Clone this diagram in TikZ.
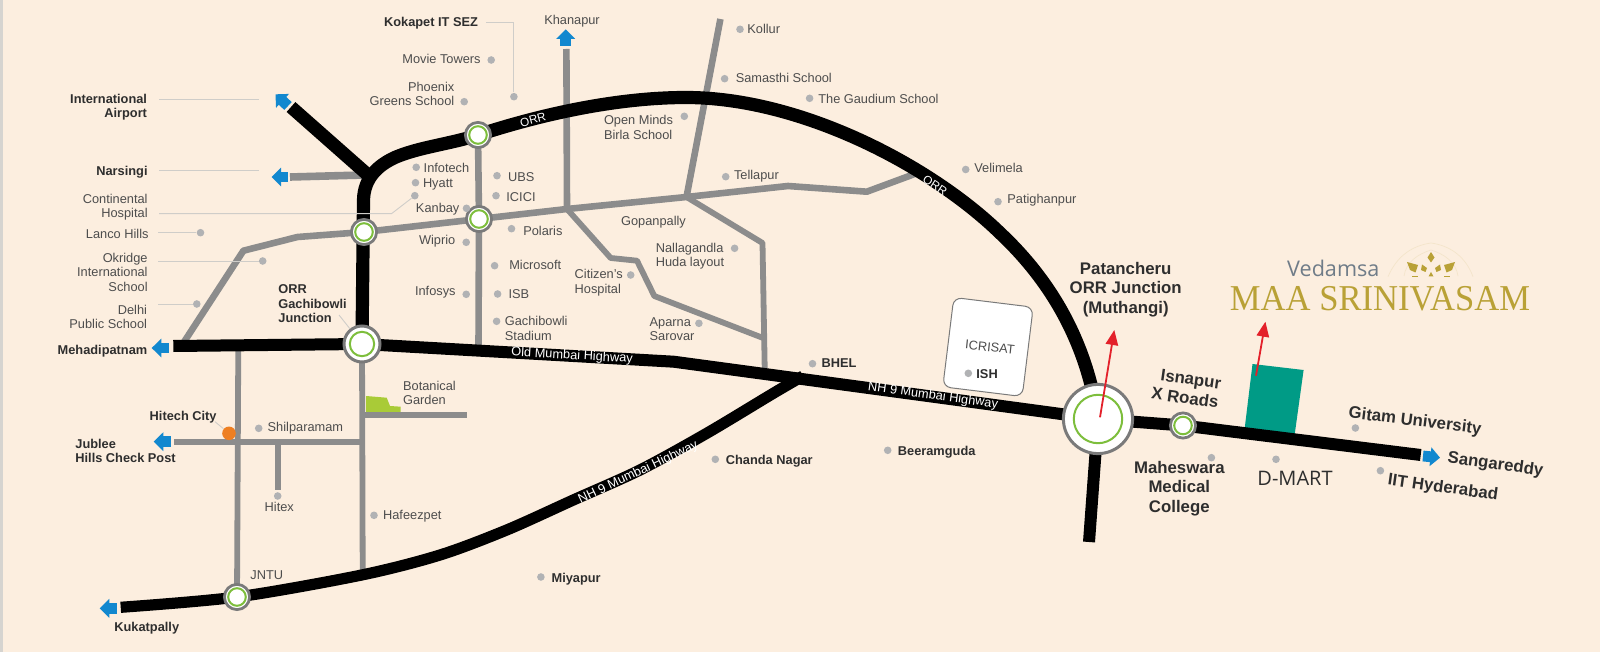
\documentclass[tikz,border=0pt]{standalone}
\usepackage{fontspec}
\setmainfont{Liberation Sans}
\newfontfamily\logofont{Open Sans}
\newfontfamily\brandfont{Liberation Serif}
\usetikzlibrary{positioning,calc,arrows.meta}
\definecolor{mapbg}{HTML}{FCEEDF}
\definecolor{sidestrip}{HTML}{D6D4D0}
\definecolor{roadgray}{HTML}{8C8C8C}
\definecolor{placegray}{HTML}{B1B2B4}
\definecolor{leadergray}{HTML}{CFCDC9}
\definecolor{arrowblue}{HTML}{1288CF}
\definecolor{ringgreen}{HTML}{7DBE3C}
\definecolor{ringgray}{HTML}{7A7A7A}
\definecolor{parkgreen}{HTML}{A9CB37}
\definecolor{plotteal}{HTML}{009B86}
\definecolor{pinred}{HTML}{E3202A}
\definecolor{dotorange}{HTML}{EE7F22}
\definecolor{brandgold}{HTML}{B9A136}
\definecolor{brandgray}{HTML}{6F7C88}
\definecolor{textgray}{HTML}{4D4D4D}
\definecolor{textdark}{HTML}{2E2E2E}
\tikzset{font=\fontsize{6.4}{7.25}\selectfont}
\tikzset{
	orr/.style={draw=black, line width=6.6pt},
	highway/.style={draw=black, line width=6pt, line join=round},
	mainroad/.style={draw=roadgray, line width=3.3pt, line join=round},
	sideroad/.style={draw=roadgray, line width=2.9pt, line join=round},
	leader/.style={draw=leadergray, line width=0.45pt},
	bluearrow/.style={draw=arrowblue, line width=5.4pt, -{Triangle[length=4.8pt,width=9.2pt,color=arrowblue]}},
	redarrow/.style={draw=pinred, line width=0.9pt, -{Triangle[length=7.5pt,width=6.2pt,color=pinred]}},
	placedot/.style={circle, fill=placegray, minimum size=3.8pt},
	jnsmall/.style={circle, fill=white, draw=ringgray, line width=1.4pt, minimum size=12.6pt},
	jngreensmall/.style={circle, draw=ringgreen, line width=1pt, minimum size=8.8pt},
	jnmid/.style={circle, fill=white, draw=ringgray, line width=1.5pt, minimum size=18pt},
	jngreenmid/.style={circle, draw=ringgreen, line width=1pt, minimum size=12.2pt},
	jnbig/.style={circle, fill=white, draw=ringgray, line width=1.5pt, minimum size=34.6pt},
	jngreenbig/.style={circle, draw=ringgreen, line width=1pt, minimum size=24.2pt},
	plain/.style={text=textgray},
	strong/.style={text=textdark, font=\fontsize{6.4}{7.25}\selectfont\bfseries},
	big/.style={text=textdark, font=\fontsize{8.4}{9.7}\selectfont\bfseries},
	onroad/.style={text=white},
	petal/.style={fill=brandgold},
	faintline/.style={draw=brandgold!12!mapbg, line width=0.35pt}
}

\begin{document}
\begin{tikzpicture}[x=0.5pt, y=-0.5pt]
	\tikzstyle{every node}=[align=center, inner sep=0pt]
	\useasboundingbox (0,0) rectangle (1600,652);
	\fill[mapbg] (0,0) rectangle (1600,652);
	\fill[sidestrip] (0,0) rectangle (3,652);

	\coordinate (jnNorth) at (478,135);
	\coordinate (jnKanbay) at (479,219);
	\coordinate (jnWest) at (364,232);
	\coordinate (jnGach) at (362,344);
	\coordinate (jnJntu) at (237,597);
	\coordinate (jnMuthangi) at (1098,419);
	\coordinate (jnIsnapur) at (1183,425.5);
	\coordinate (forkAirport) at (368,175);
	\coordinate (forkBhel) at (803,376);
	\coordinate (bendHighway) at (673.7,361.7);
	\coordinate (forkTellapur) at (686.5,197);
	\coordinate (forkGopan) at (567,209);

	\fill[plotteal] (1252.5,364) -- (1303.6,370) -- (1294.6,435) -- (1244.6,429) -- cycle;
	\fill[parkgreen] (366,396) -- (386.7,397.7) -- (390,406) -- (400.7,406.7) -- (400.7,412) -- (366,412) -- cycle;

	\draw[mainroad] (184,342) -- (243.4,250.7) -- (297.5,237) -- (jnWest) -- (jnKanbay) -- (forkGopan) -- (forkTellapur) -- (788,186) -- (866.8,191.7) -- (920,172);
	\draw[mainroad] (jnNorth) -- (jnKanbay) -- (478.5,346);
	\draw[mainroad, line width=3.8pt] (290,177) -- (364,175);
	\draw[mainroad] (566.4,49) -- (forkGopan);
	\draw[mainroad] (720.4,19) -- (forkTellapur);
	\draw[sideroad] (forkGopan) -- (610.7,258) -- (637,260.7) -- (654.3,296) -- (763.9,338.3);
	\draw[sideroad] (forkTellapur) -- (762.5,243) -- (764.7,368);
	\draw[sideroad] (238.3,346) -- (jnJntu);
	\draw[sideroad] (174,441.7) -- (362.7,441.7);
	\draw[sideroad] (278.3,441.7) -- (278.3,490);
	\draw[sideroad] (jnGach) -- (362.7,570);
	\draw[sideroad] (362.7,414.7) -- (466.7,414.7);

	\draw[orr] (291,107) -- (forkAirport);
	\draw[orr] (jnGach) -- (363.5,200) .. controls (364,178) and (378,165) .. (396,157) .. controls (420,147) and (450,144) .. (jnNorth) .. controls (545,113) and (620,97.5) .. (686,97.5) .. controls (800,97.5) and (930,165) .. (1000,233) .. controls (1050,280) and (1086,340) .. (jnMuthangi);
	\draw[highway] (jnMuthangi) -- (1089,542);
	\draw[highway] (173.3,346) -- (jnGach) -- (bendHighway) -- (jnMuthangi);
	\draw[highway] (jnMuthangi) -- (jnIsnapur) -- (1420.7,455);
	\draw[highway, line width=5.6pt] plot[smooth, tension=0.5] coordinates {(120.7,607.3) (jnJntu) (361.7,575) (440,555) (506.7,530) (573.3,500) (640,470) (706.7,433.3) (773.3,393.3) (forkBhel)};

	\coordinate (tailAirport) at (288,106);
	\coordinate (tipAirport) at (275.5,94.3);
	\coordinate (tailNarsingi) at (288,177);
	\coordinate (tipNarsingi) at (271.5,177);
	\coordinate (tailKhanapur) at (565.7,46);
	\coordinate (tipKhanapur) at (565.7,29.3);
	\coordinate (tailMehadi) at (168.7,348);
	\coordinate (tipMehadi) at (151.7,348);
	\coordinate (tailJubilee) at (170.7,441.7);
	\coordinate (tipJubilee) at (153.7,441.7);
	\coordinate (tailKukat) at (116.7,608.3);
	\coordinate (tipKukat) at (99.7,608.3);
	\coordinate (tailSanga) at (1423,456);
	\coordinate (tipSanga) at (1440,457.7);
	\draw[bluearrow] (tailAirport) -- (tipAirport);
	\draw[bluearrow] (tailNarsingi) -- (tipNarsingi);
	\draw[bluearrow] (tailKhanapur) -- (tipKhanapur);
	\draw[bluearrow] (tailMehadi) -- (tipMehadi);
	\draw[bluearrow] (tailJubilee) -- (tipJubilee);
	\draw[bluearrow] (tailKukat) -- (tipKukat);
	\draw[bluearrow] (tailSanga) -- (tipSanga);

	\node[jnsmall] (ringNorth) at (jnNorth) {};
	\node[jngreensmall] at (ringNorth) {};
	\node[jnsmall] (ringKanbay) at (jnKanbay) {};
	\node[jngreensmall] at (ringKanbay) {};
	\node[jnsmall] (ringWest) at (jnWest) {};
	\node[jngreensmall] at (ringWest) {};
	\node[jnmid] (ringGach) at (jnGach) {};
	\node[jngreenmid] at (ringGach) {};
	\node[jnsmall] (ringJntu) at (jnJntu) {};
	\node[jngreensmall] at (ringJntu) {};
	\node[jnsmall] (ringIsnapur) at (jnIsnapur) {};
	\node[jngreensmall] at (ringIsnapur) {};
	\node[jnbig] (ringMuthangi) at (jnMuthangi) {};
	\node[jngreenbig] at (ringMuthangi) {};

	\node[rectangle, rounded corners=4pt, fill=white, draw=ringgray, line width=0.5pt, minimum width=40pt, minimum height=45pt, rotate=-7] (icrisatBox) at (988,347) {};

	\node[placedot] (dMovie) at (491.2,60) {};
	\node[placedot] (dPhoenix) at (464.2,101.7) {};
	\node[placedot] (dKokapet) at (513.9,96.7) {};
	\node[placedot] (dInfotech) at (416.2,167.3) {};
	\node[placedot] (dHyatt) at (415.5,182.7) {};
	\node[placedot] (dContinental) at (414.8,195.7) {};
	\node[placedot] (dKanbay) at (466.5,208.3) {};
	\node[placedot] (dWiprio) at (466.2,242.3) {};
	\node[placedot] (dInfosys) at (466.2,294.3) {};
	\node[placedot] (dUbs) at (497,175.7) {};
	\node[placedot] (dIcici) at (496,195.7) {};
	\node[placedot] (dPolaris) at (511.5,228.7) {};
	\node[placedot] (dMicrosoft) at (494.6,265.7) {};
	\node[placedot] (dIsb) at (497.6,294) {};
	\node[placedot] (dStadium) at (496.6,321.3) {};
	\node[placedot] (dLanco) at (200.5,232.7) {};
	\node[placedot] (dOkridge) at (262.7,261) {};
	\node[placedot] (dDelhi) at (196.8,304) {};
	\node[placedot] (dKollur) at (740,29.3) {};
	\node[placedot] (dSamasthi) at (724.6,78.7) {};
	\node[placedot] (dGaudium) at (809.6,98.3) {};
	\node[placedot] (dOpenMinds) at (684.3,116.3) {};
	\node[placedot] (dTellapur) at (725.7,176.7) {};
	\node[placedot] (dVelimela) at (965.7,169.5) {};
	\node[placedot] (dPatighan) at (998,201.7) {};
	\node[placedot] (dNallagandla) at (734.6,248.3) {};
	\node[placedot] (dCitizen) at (630.7,275) {};
	\node[placedot] (dAparna) at (698.9,323.3) {};
	\node[placedot] (dBhel) at (812.5,363.7) {};
	\node[placedot] (dIsh) at (968.3,373.3) {};
	\node[placedot] (dChanda) at (715.3,459.3) {};
	\node[placedot] (dBeeram) at (887.7,450.3) {};
	\node[placedot] (dMiyapur) at (540.9,577) {};
	\node[placedot] (dShilpa) at (258.7,428.3) {};
	\node[placedot] (dHitex) at (277.7,496) {};
	\node[placedot] (dHafeez) at (374,515.3) {};
	\node[placedot] (dMaheswara) at (1211.4,457.7) {};
	\node[placedot] (dDmart) at (1276,459.3) {};
	\node[placedot] (dGitam) at (1355.4,428) {};
	\node[placedot] (dIit) at (1380.4,470.7) {};
	\node[circle, fill=dotorange, minimum size=6.8pt] (dHitech) at (229,433.3) {};

	\coordinate (legKokapet) at (485.8,22.7);
	\coordinate (legAirportA) at (159,99);
	\coordinate (legAirportB) at (258.6,99);
	\coordinate (legNarsingiA) at (159,170.7);
	\coordinate (legNarsingiB) at (258.6,170.7);
	\coordinate (legHospital) at (159,213.7);
	\coordinate (bendHospital) at (391.5,213.7);
	\coordinate (legLanco) at (158,232.7);
	\coordinate (legOkridge) at (158,261);
	\coordinate (legDelhi) at (158,304);
	\coordinate (legHitech) at (215,421.7);
	\coordinate (legGach) at (339,315);
	\draw[leader] (legKokapet) -| (dKokapet);
	\draw[leader] (legAirportA) -- (legAirportB);
	\draw[leader] (legNarsingiA) -- (legNarsingiB);
	\draw[leader] (legHospital) -- (bendHospital) -- (dContinental);
	\draw[leader] (legLanco) -- (dLanco);
	\draw[leader] (legOkridge) -- (dOkridge);
	\draw[leader] (legDelhi) -- (dDelhi);
	\draw[leader] (legHitech) -- (dHitech);
	\draw[leader] (legGach) -- (ringGach);

	\node[strong, anchor=east] (kokapet) at (478.4,23.3) {Kokapet IT SEZ};
	\node[plain, anchor=east] (movie) at (481,59.3) {Movie Towers};
	\node[plain, anchor=east, align=right] (phoenix) at (454.7,93.7) {Phoenix\\Greens School};
	\node[strong, anchor=east, align=right] (airport) at (147.4,107) {International\\Airport};
	\node[strong, anchor=east] (narsingi) at (148,172) {Narsingi};
	\node[plain, anchor=east, align=right] (continental) at (148,207) {Continental\\Hospital};
	\node[plain, anchor=east] (lanco) at (149,234) {Lanco Hills};
	\node[plain, anchor=east, align=right] (okridge) at (148,272) {Okridge\\International\\School};
	\node[plain, anchor=east, align=right] (delhi) at (147.4,316.7) {Delhi\\Public School};
	\node[strong, anchor=west, align=left] (gachibowli) at (278,304) {ORR\\Gachibowli\\Junction};
	\node[plain, anchor=west] (infotech) at (423.3,168.3) {Infotech};
	\node[plain, anchor=west] (hyatt) at (422.6,184.3) {Hyatt};
	\node[plain, anchor=east] (kanbay) at (459.8,209.3) {Kanbay};
	\node[plain, anchor=east] (wiprio) at (455.7,240.7) {Wiprio};
	\node[plain, anchor=east] (infosys) at (456,292) {Infosys};
	\node[plain, anchor=west] (ubs) at (507.8,176.7) {UBS};
	\node[plain, anchor=west] (icici) at (506,196.7) {ICICI};
	\node[plain, anchor=west] (polaris) at (522.9,231) {Polaris};
	\node[plain, anchor=west] (microsoft) at (508.9,265.3) {Microsoft};
	\node[plain, anchor=west] (isb) at (508.2,294.3) {ISB};
	\node[plain, anchor=west, align=left] (stadium) at (504.5,328.3) {Gachibowli\\Stadium};
	\node[plain] (khanapur) at (572,20.7) {Khanapur};
	\node[plain, anchor=west] (kollur) at (747,28.7) {Kollur};
	\node[plain, anchor=west] (samasthi) at (735.4,78) {Samasthi School};
	\node[plain, anchor=west] (gaudium) at (817.9,98.7) {The Gaudium School};
	\node[plain, anchor=west, align=left] (openminds) at (603.6,127.3) {Open Minds\\Birla School};
	\node[plain, anchor=west] (tellapur) at (733.6,176) {Tellapur};
	\node[plain, anchor=west] (velimela) at (974,167.7) {Velimela};
	\node[plain, anchor=west] (patighan) at (1007,200) {Patighanpur};
	\node[plain, anchor=west] (gopanpally) at (620.7,222) {Gopanpally};
	\node[plain, anchor=west, align=left] (nallagandla) at (655.4,256) {Nallagandla\\Huda layout};
	\node[plain, anchor=west, align=left] (citizen) at (574.3,282.7) {Citizen's\\Hospital};
	\node[plain, anchor=west, align=left] (aparna) at (649.2,329) {Aparna\\Sarovar};
	\node[strong, anchor=west] (bhel) at (821.2,362.7) {BHEL};
	\node[plain, rotate=-6] (icrisat) at (990,347) {ICRISAT};
	\node[strong, anchor=west] (ish) at (976,374) {ISH};
	\node[strong, anchor=east] (hitech) at (217,416.7) {Hitech City};
	\node[plain, anchor=west] (shilpa) at (267.3,428.3) {Shilparamam};
	\node[plain, anchor=west, align=left] (botanical) at (402.7,392.7) {Botanical\\Garden};
	\node[strong, anchor=east] (mehadi) at (147.7,350.7) {Mehadipatnam};
	\node[strong, anchor=west, align=left] (jubilee) at (75,450.7) {Jublee\\Hills Check Post};
	\node[plain] (hitex) at (279.3,506.7) {Hitex};
	\node[plain, anchor=west] (hafeez) at (382.7,516) {Hafeezpet};
	\node[plain, anchor=west] (jntu) at (250,575) {JNTU};
	\node[strong, anchor=west] (kukat) at (114,628.3) {Kukatpally};
	\node[strong, anchor=west] (miyapur) at (551.2,578.7) {Miyapur};
	\node[strong, anchor=west] (chanda) at (725.5,461.3) {Chanda Nagar};
	\node[strong, anchor=west] (beeram) at (897.5,452.7) {Beeramguda};

	\node[onroad, rotate=-3.2] (oldHighway) at (572,356) {Old Mumbai Highway};
	\node[onroad, rotate=-7.7] (nhUpper) at (933,396) {NH 9 Mumbai Highway};
	\node[onroad, rotate=25.5] (nhLower) at (638.3,472.5) {NH 9 Mumbai Highway};
	\node[onroad, rotate=15, font=\fontsize{5.9}{7}\selectfont] (orrWest) at (533,120) {ORR};
	\node[onroad, rotate=-33, font=\fontsize{5.9}{7}\selectfont] (orrEast) at (935,185.7) {ORR};

	\node[big] (patancheru) at (1125.7,289.3) {Patancheru\\ORR Junction\\(Muthangi)};
	\node[big, align=right, rotate=-8] (isnapur) at (1186.4,388.3) {Isnapur\\X Roads};
	\node[big] (maheswara) at (1179.3,488.3) {Maheswara\\Medical\\College};
	\node[big, rotate=-7] (gitam) at (1415,421.7) {Gitam University};
	\node[big, rotate=-8] (sanga) at (1495.4,465) {Sangareddy};
	\node[big, rotate=-8] (iit) at (1442.9,488.3) {IIT Hyderabad};
	\node[text=textdark, font=\logofont\fontsize{10}{12}\selectfont] (dmart) at (1295,478.3) {D-MART};

	\coordinate (startMuthangi) at (1100,417.3);
	\coordinate (endMuthangi) at (1114.3,330);
	\coordinate (startPlot) at (1256,375.7);
	\coordinate (endPlot) at (1265.4,321.7);
	\draw[redarrow] (startMuthangi) -- (endMuthangi);
	\draw[redarrow] (startPlot) -- (endPlot);

	\node[text=brandgray, font=\logofont\fontsize{10.8}{13}\selectfont] (vedamsa) at (1333.3,268.3) {Vedamsa};
	\node[text=brandgold, font=\brandfont\fontsize{18.2}{20}\selectfont, xscale=0.95] (srinivasam) at (1380,299) {MAA SRINIVASAM};
	\draw[faintline] (1388,276.7) .. controls (1396,258) and (1410,246) .. (1431,243) .. controls (1452,246) and (1466,258) .. (1473,276.7);
	\draw[faintline] (1404,276) .. controls (1406,262) and (1418,254) .. (1431,250) .. controls (1444,254) and (1456,262) .. (1458,276);
	\fill[petal] (1431,252) -- (1434.5,257.5) -- (1431,262.5) -- (1427.5,257.5) -- cycle;
	\fill[petal] (1407,262) -- (1418,265) -- (1415.5,272.5) -- (1410,270) -- cycle;
	\fill[petal] (1455,262) -- (1444,265) -- (1446.5,272.5) -- (1452,270) -- cycle;
	\fill[petal] (1422,264.5) -- (1427,268) -- (1425.5,272) -- (1421,270) -- cycle;
	\fill[petal] (1440,264.5) -- (1435,268) -- (1436.5,272) -- (1441,270) -- cycle;
	\fill[petal] (1431,272) -- (1433.5,276.5) -- (1428.5,276.5) -- cycle;
	\fill[petal] (1412,276.2) rectangle (1418,277.2);
	\fill[petal] (1444,276.2) rectangle (1450,277.2);
\end{tikzpicture}
\end{document}
